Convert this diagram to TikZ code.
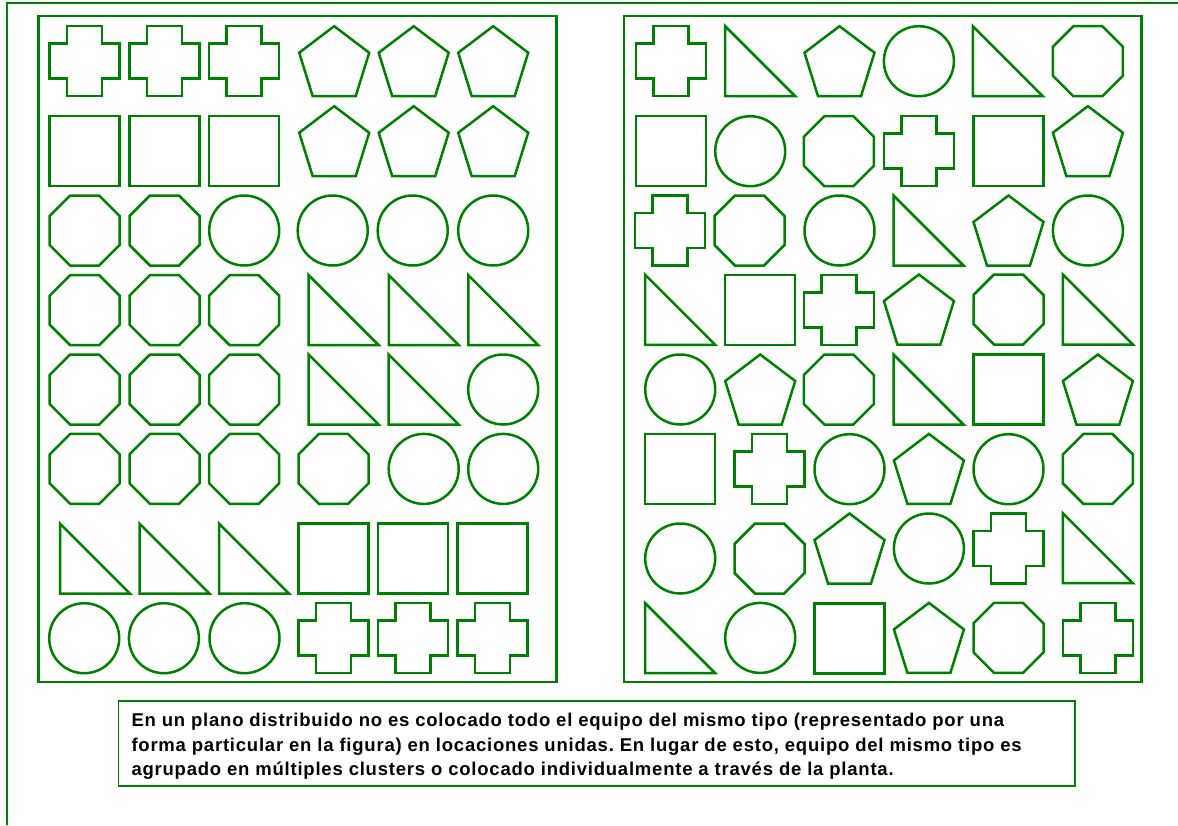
\documentclass[tikz,border=0pt]{standalone}
\usepackage{fontspec}
\setmainfont{Liberation Sans}
\newfontfamily\capfont{Liberation Sans}[LetterSpace=4.2]
\definecolor{gr}{RGB}{0,128,0}
\tikzset{
  shp/.style={draw=gr, line width=2.5},
  panel/.style={draw=gr, line width=2.4},
  outer/.style={draw=gr, line width=2},
  capbox/.style={draw=gr, line width=1.1},
  captxt/.style={anchor=base west, inner sep=0pt, font=\capfont\bfseries\fontsize{18.5}{22}\selectfont}
}
\newcommand\shSquare[2]{\draw[shp,shift={({#1+1.2},{#2+1.2})}] (0,0) rectangle (70,70);}
\newcommand\shCircle[2]{\draw[shp] ({#1+36.2},{#2+36.2}) circle[radius=35];}
\newcommand\shOct[2]{\draw[shp,shift={({#1+1.2},{#2+1.2})}] (20.5,0) -- (49.5,0) -- (70,20.5) -- (70,49.5) -- (49.5,70) -- (20.5,70) -- (0,49.5) -- (0,20.5) -- cycle;}
\newcommand\shCross[2]{\draw[shp,shift={({#1+1.2},{#2+1.2})}] (17.5,0) -- (52.5,0) -- (52.5,17.5) -- (70,17.5) -- (70,52.5) -- (52.5,52.5) -- (52.5,70) -- (17.5,70) -- (17.5,52.5) -- (0,52.5) -- (0,17.5) -- (17.5,17.5) -- cycle;}
\newcommand\shPent[2]{\draw[shp,shift={({#1+1.2},{#2+1.2})}] (35,0) -- (70,26.5) -- (56.5,70) -- (13.5,70) -- (0,26.5) -- cycle;}
\newcommand\shTri[2]{\draw[shp,shift={({#1+1.2},{#2+1.2})}] (0,0) -- (0,70) -- (70,70) -- cycle;}
\begin{document}
\frenchspacing
\begin{tikzpicture}[x=1pt,y=-1pt]
\useasboundingbox (0,0) rectangle (1178,825);
% outer frame lines
\draw[outer] (7,825) -- (7,3) -- (1178,3);
% panels
\draw[panel] (38.5,15.7) rectangle (556.3,682);
\draw[panel] (624,15.7) rectangle (1141.5,682);
% ---------- left panel ----------
% row 1
\shCross{48.5}{25}\shCross{128.3}{25}\shCross{208}{25}
\shPent{298}{25}\shPent{377.5}{25}\shPent{457}{25}
% row 2
\shSquare{48.5}{115}\shSquare{128.3}{115}\shSquare{208}{115}
\shPent{298}{105}\shPent{377.5}{105}\shPent{457}{105}
% row 3
\shOct{48.5}{194.3}\shOct{128.3}{194.3}\shCircle{208}{194.3}
\shCircle{296.5}{194.3}\shCircle{376.5}{194.3}\shCircle{457}{194.3}
% row 4
\shOct{48.5}{274}\shOct{128.3}{274}\shOct{208}{274}
\shTri{307.5}{274}\shTri{387.7}{274}\shTri{467.2}{274}
% row 5
\shOct{48.5}{353.3}\shOct{128.3}{353.3}\shOct{208}{353.3}
\shTri{307.5}{353.3}\shTri{387.5}{353.3}\shCircle{467}{353.3}
% row 6
\shOct{48.5}{432.7}\shOct{128.3}{432.7}\shOct{208}{432.7}
\shOct{297.3}{432.7}\shCircle{387.5}{432.7}\shCircle{467}{432.7}
% row 7
\shTri{58.8}{522.5}\shTri{138.3}{522.5}\shTri{217.8}{522.5}
\shSquare{297.3}{522.5}\shSquare{377}{522.5}\shSquare{456.5}{522.5}
% row 8
\shCircle{48}{602}\shCircle{127.7}{602}\shCircle{208.3}{602}
\shCross{297.3}{602}\shCross{377}{602}\shCross{456.5}{602}
% ---------- right panel ----------
% row 1
\shCross{634.7}{25}\shTri{724}{25}\shPent{803.3}{25}
\shCircle{882.7}{25}\shTri{971.7}{25}\shOct{1051.7}{25}
% row 2
\shSquare{635}{115}\shCircle{714}{115}\shOct{802.7}{115}
\shCross{882.7}{115}\shSquare{972.3}{115}\shPent{1051.7}{105}
% row 3
\shCross{634}{194.3}\shOct{713.3}{194.3}\shCircle{803.3}{194.3}
\shTri{892.3}{194.3}\shPent{972.3}{194.3}\shCircle{1051.7}{194.3}
% row 4
\shTri{644}{273.7}\shSquare{724}{274}\shCross{802.7}{274}
\shPent{882.7}{273.3}\shOct{972.3}{273.3}\shTri{1061.7}{273.3}
% row 5
\shCircle{644}{353.3}\shPent{724}{353.3}\shOct{802.7}{353.3}
\shTri{892.3}{353.3}\shSquare{972.3}{353.3}\shPent{1061.7}{353.3}
% row 6
\shSquare{644}{432.7}\shCross{733.3}{432.7}\shCircle{813.3}{433}
\shPent{892.7}{432.7}\shCircle{972.3}{433}\shOct{1061.7}{432.7}
% row 7
\shCircle{644}{522.3}\shOct{733.3}{522.3}\shPent{813.3}{512.3}
\shCircle{892.7}{512.3}\shCross{972.3}{512.3}\shTri{1061.7}{512}
% row 8
\shTri{644}{602}\shCircle{724}{601.7}\shSquare{813.3}{602.2}
\shPent{892.7}{601.7}\shOct{972.3}{601.7}\shCross{1061.7}{601.7}
% ---------- caption ----------
\draw[capbox] (118.3,701) rectangle (1075,786);
\node[captxt] (t1) at (131.3,726.7) {En un plano distribuido no es colocado todo el equipo del mismo tipo (representado por una};
\node[captxt] (t2) at (131.3,751) {forma particular en la figura) en locaciones unidas. En lugar de esto, equipo del mismo tipo es};
\node[captxt] (t3) at (131.3,775.3) {agrupado en múltiples clusters o colocado individualmente a través de la planta.};
\end{tikzpicture}
\end{document}
